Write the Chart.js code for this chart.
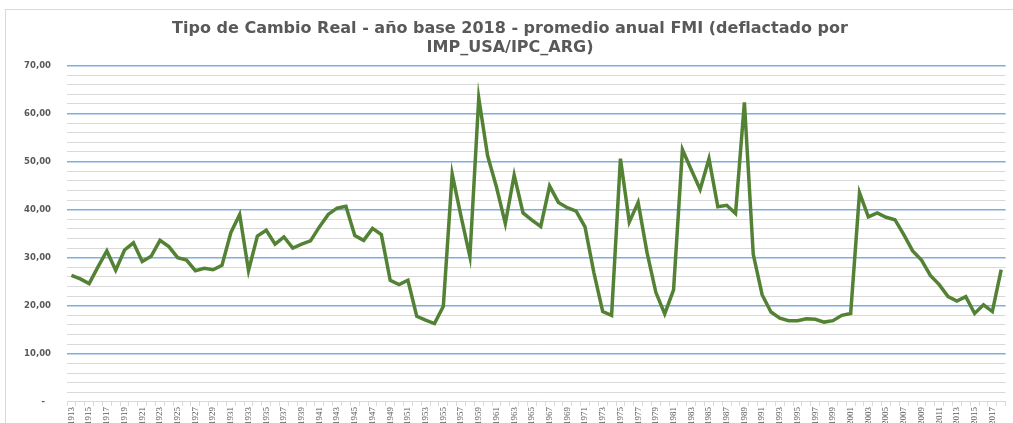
<!DOCTYPE html>
<html lang="es">
<head>
<meta charset="utf-8">
<title>Tipo de Cambio Real</title>
<script src="https://cdn.jsdelivr.net/npm/chart.js@4.4.1/dist/chart.umd.min.js"></script>
<style>
    html, body { margin: 0; padding: 0; background: #ffffff; }
    #wrap { position: relative; width: 1013px; height: 423px; }
</style>
</head>
<body>
<div id="wrap"><canvas id="chart-tcr" width="1013" height="423"></canvas></div>
<script>
// Años 1913 - 2018
const years = [];
for (let y = 1913; y <= 2018; y++) years.push(String(y));

// Tipo de cambio real
const tcr = [
    26.3, 25.6, 24.6, 28.1, 31.4, 27.4, 31.6, 33.1, 29.2, 30.3,   // 1913-1922
    33.6, 32.3, 30.0, 29.5, 27.3, 27.8, 27.5, 28.4, 35.2, 39.0,   // 1923-1932
    27.3, 34.5, 35.7, 32.8, 34.3, 32.0, 32.8, 33.5, 36.4, 39.0,   // 1933-1942
    40.3, 40.7, 34.6, 33.6, 36.1, 34.8, 25.3, 24.4, 25.3, 17.8,   // 1943-1952
    17.0, 16.3, 19.9, 47.4, 38.6, 30.2, 63.2, 51.2, 44.7, 37.1,   // 1953-1962
    47.2, 39.3, 37.8, 36.5, 44.9, 41.5, 40.4, 39.7, 36.4, 26.9,   // 1963-1972
    18.8, 18.0, 50.6, 37.4, 41.5, 31.1, 22.8, 18.3, 23.3, 52.5,   // 1973-1982
    48.3, 44.2, 50.6, 40.6, 40.9, 39.2, 62.3, 30.7, 22.3, 18.7,   // 1983-1992
    17.4, 16.9, 16.9, 17.3, 17.2, 16.6, 16.9, 18.0, 18.4, 43.5,   // 1993-2002
    38.5, 39.3, 38.4, 37.9, 34.8, 31.4, 29.5, 26.3, 24.4, 21.9,   // 2003-2012
    21.0, 21.9, 18.4, 20.2, 18.8, 27.5                            // 2013-2018
];

const titleLines = [
    'Tipo de Cambio Real - año base 2018 - promedio anual FMI (deflactado por',
    'IMP_USA/IPC_ARG)'
];

const textGray = '#595959';
const majorGrid = '#7FAEDF';
const minorGrid = '#D9D9D9';

// borde del área del gráfico (estilo Excel)
const chartBorder = {
    id: 'chartBorder',
    beforeDraw(chart) {
        const ctx = chart.ctx;
        ctx.save();
        ctx.strokeStyle = '#D9D9D9';
        ctx.lineWidth = 1;
        ctx.strokeRect(5.5, 9.5, chart.width + 10, chart.height + 10);
        ctx.restore();
    }
};

const ctx = document.getElementById('chart-tcr').getContext('2d');

new Chart(ctx, {
    type: 'line',
    data: {
        labels: years,
        datasets: [{
            label: 'TCR',
            data: tcr,
            borderColor: '#548235',
            borderWidth: 3.5,
            pointRadius: 0,
            tension: 0,
            fill: false
        }]
    },
    options: {
        responsive: false,
        animation: false,
        layout: {
            padding: { top: 6, left: 8, right: 1, bottom: 0 }
        },
        plugins: {
            legend: { display: false },
            tooltip: { enabled: false },
            title: {
                display: true,
                text: titleLines,
                color: textGray,
                font: { family: 'DejaVu Sans', size: 16, weight: 'bold', lineHeight: 1.2 },
                padding: { top: 13, bottom: 8 }
            }
        },
        scales: {
            x: {
                offset: true,
                grid: {
                    offset: true,
                    drawOnChartArea: false,
                    drawTicks: true,
                    tickLength: 4,
                    color: minorGrid
                },
                border: { display: true, color: minorGrid },
                ticks: {
                    autoSkip: false,
                    maxRotation: 90,
                    minRotation: 90,
                    padding: 1,
                    color: textGray,
                    font: { family: 'Liberation Sans Narrow', size: 9 },
                    callback: function (val, i) {
                        return i % 2 === 0 ? this.getLabelForValue(val) : '';
                    }
                },
                afterFit: function (scale) { scale.height = 21; }
            },
            y: {
                min: 0,
                max: 70,
                border: { display: false },
                grid: {
                    drawTicks: false,
                    color: c => (c.tick.value % 10 === 0 && c.tick.value > 0) ? majorGrid : minorGrid,
                    lineWidth: c => (c.tick.value % 10 === 0 && c.tick.value > 0) ? 1.5 : 1
                },
                ticks: {
                    stepSize: 2,
                    autoSkip: false,
                    padding: 16,
                    color: textGray,
                    font: { family: 'DejaVu Sans', size: 8.5, weight: 'bold' },
                    callback: function (v) {
                        if (v === 0) return '-  ';
                        if (v % 10 !== 0) return '';
                        return v.toFixed(2).replace('.', ',');
                    }
                },
                afterFit: function (scale) { scale.width = 59; }
            }
        }
    },
    plugins: [chartBorder]
});
</script>
</body>
</html>
